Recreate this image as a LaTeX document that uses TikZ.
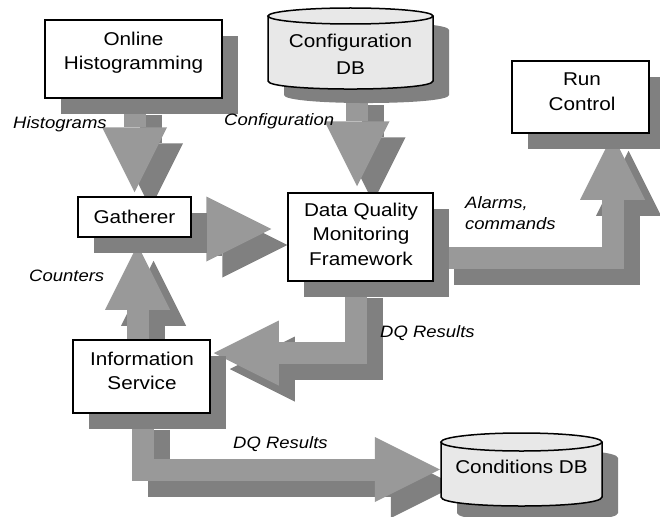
\documentclass[tikz,border=0pt]{standalone}
\usepackage{fontspec}
\setmainfont{Liberation Sans}[FakeStretch=1.12]
\usetikzlibrary{arrows.meta,calc,shadows}
\definecolor{arrowgray}{HTML}{999999}
\definecolor{shadowgray}{HTML}{808080}
\definecolor{cylfill}{HTML}{E8E8E8}
\pgfdeclarelayer{ashadow}
\pgfdeclarelayer{alight}
\pgfsetlayers{ashadow,alight,main}
\begin{document}
\begin{tikzpicture}[x=1pt,y=-1pt,
  box/.style={draw=black, line width=1.5pt, fill=white, inner sep=0pt,
    drop shadow={shadow xshift=16pt, shadow yshift=-16pt, fill=shadowgray, opacity=1}},
  txt/.style={align=center, font=\fontsize{18.5}{24.5}\selectfont, inner sep=0pt},
  lbl/.style={font=\fontsize{16.5}{21.5}\selectfont\itshape, inner sep=0pt, anchor=base west, align=left},
  blk/.style={line width=22pt, line join=miter, -{Triangle[width=65pt,length=65pt,line width=0pt]}},
  blklight/.style={blk, draw=arrowgray},
  blkshadow/.style={blk, draw=shadowgray, transform canvas={shift={(16pt,-16pt)}}},
  cylline/.style={draw=black, line width=1.5pt}
]
\useasboundingbox (0,0) rectangle (660,516);

% rectangular boxes
\node[box, minimum width=177pt, minimum height=78pt] (hist) at (133.5,59) {};
\node[txt] (histtxt) at (133.5,52.7) {Online\\Histogramming};

\node[box, minimum width=137pt, minimum height=72pt] (rc) at (580.5,97) {};
\node[txt] (rctxt) at (582,91.6) {Run\\Control};

\node[box, minimum width=113pt, minimum height=40pt] (gath) at (134.5,217) {};
\node[txt] (gathtxt) at (134.5,216.6) {Gatherer};

\node[box, minimum width=145pt, minimum height=88pt] (dq) at (360.5,237) {};
\node[txt] (dqtxt) at (361,234.1) {Data Quality\\Monitoring\\Framework};

\node[box, minimum width=137pt, minimum height=73pt] (is) at (141.5,376.5) {};
\node[txt] (istxt) at (142,370.8) {Information\\Service};

% Configuration DB cylinder
\fill[shadowgray] (284,30) -- (284,95) .. controls (284,105.7) and (449,105.7) .. (449,95)
  -- (449,30) .. controls (449,19.3) and (284,19.3) .. (284,30) -- cycle;
\fill[cylfill] (268,16) -- (268,81) .. controls (268,91.7) and (433,91.7) .. (433,81) -- (433,16) -- cycle;
\draw[cylline] (268,16) -- (268,81) .. controls (268,91.7) and (433,91.7) .. (433,81) -- (433,16);
\draw[cylline, fill=cylfill] (350.5,16) ellipse[x radius=82.5, y radius=8];
\node[txt, minimum width=165pt, font=\fontsize{18.5}{27}\selectfont] (cfg) at (350.5,54.3) {Configuration\\DB};

% Conditions DB cylinder
\fill[shadowgray] (457,458) -- (457,513) .. controls (457,525) and (618,525) .. (618,513)
  -- (618,458) .. controls (618,446) and (457,446) .. (457,458) -- cycle;
\fill[cylfill] (441,442) -- (441,497) .. controls (441,509) and (602,509) .. (602,497) -- (602,442) -- cycle;
\draw[cylline] (441,442) -- (441,497) .. controls (441,509) and (602,509) .. (602,497) -- (602,442);
\draw[cylline, fill=cylfill] (521.5,442) ellipse[x radius=80.5, y radius=9];
\node[txt, minimum width=161pt] (cond) at (521.5,466.5) {Conditions DB};

% labels
\node[lbl] (lhist) at (13,128) {Histograms};
\node[lbl] (lcfg) at (224,125.5) {Configuration};
\node[lbl, anchor=north west] (lalarm) at (465,196) {Alarms,\\commands};
\node[lbl] (lcount) at (29,281.7) {Counters};
\node[lbl] (ldq1) at (380,337.3) {DQ Results};
\node[lbl] (ldq2) at (233,448) {DQ Results};

% block arrows
\foreach \s/\l in {blkshadow/ashadow, blklight/alight}{
  \begin{pgfonlayer}{\l}
    \draw[\s] (hist.south -| gath.north) -- ($(gath.north)+(0,-4)$);
    \draw[\s] ($(gath.east)+(0,12)$) -- ($(dq.west |- gath.east)+(-16,12)$);
    \draw[\s] ($(cfg.center)+(6.5,35)$) -- ($(dq.north)+(-3.5,-6)$);
    \draw[\s] ($(dq.east)+(4,20.5)$) -| ($(rc.south)+(32,1)$);
    \draw[\s] ($(dq.south)+(-4.5,0)$) |- ($(is.east)+(3,-23.5)$);
    \draw[\s] ($(is.south)+(1.5,0)$) |- ($(cond.west)+(-1,3)$);
    \draw[\s] ($(is.north)+(-4,0)$) -- ($(gath.south)+(3,7)$);
  \end{pgfonlayer}
}
\end{tikzpicture}
\end{document}
